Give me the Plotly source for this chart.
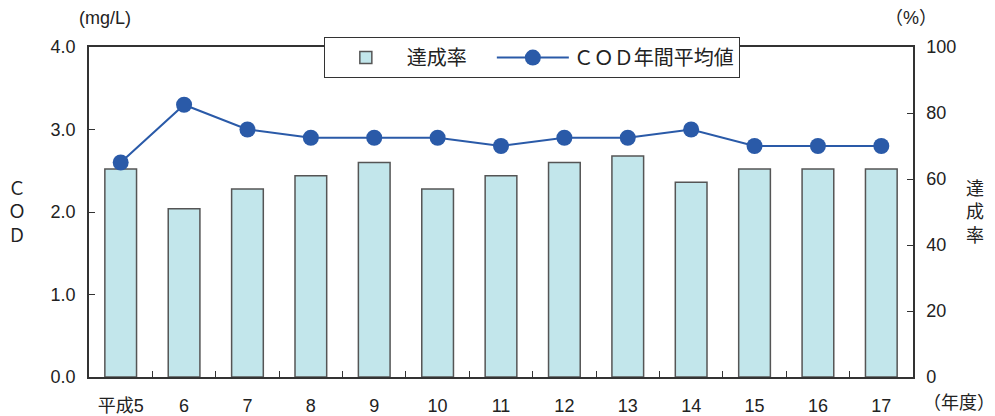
import plotly.graph_objects as go

years = ["平成5", "6", "7", "8", "9", "10", "11", "12", "13", "14", "15", "16", "17"]
achievement_rate = [63, 51, 57, 61, 65, 57, 61, 65, 67, 59, 63, 63, 63]   # 達成率 (%)
cod_mean = [2.6, 3.3, 3.0, 2.9, 2.9, 2.9, 2.8, 2.9, 2.9, 3.0, 2.8, 2.8, 2.8]  # COD年間平均値 (mg/L)

FONT = "Liberation Sans, Noto Sans CJK JP, sans-serif"
TXT = "#222222"
AX = "#333333"

fig = go.Figure()
fig.add_trace(go.Bar(
    x=years, y=achievement_rate, name="達成率　", yaxis="y",
    marker=dict(color="#c2e6eb", line=dict(color="#555555", width=1.5)),
    width=0.5,
))
fig.add_trace(go.Scatter(
    x=years, y=cod_mean, name="ＣＯＤ年間平均値", yaxis="y2",
    mode="lines+markers",
    line=dict(color="#2a5aa8", width=2),
    marker=dict(color="#2a5aa8", size=16),
))

fig.update_layout(
    width=995, height=416,
    margin=dict(l=89, r=82, t=47, b=39, autoexpand=False),
    paper_bgcolor="white", plot_bgcolor="white",
    font=dict(family=FONT, size=18, color=TXT),
    showlegend=True,
    legend=dict(
        orientation="h", x=0.285, y=1.03, xanchor="left", yanchor="top",
        bgcolor="white", bordercolor=AX, borderwidth=1,
        font=dict(size=20, color=TXT), itemwidth=72,
        traceorder="normal",
    ),
    xaxis=dict(
        type="category", range=[-0.5, len(years) - 0.5],
        tickson="boundaries", ticks="inside", ticklen=6,
        tickcolor=AX, showline=True, linecolor=AX, linewidth=1.5, mirror=True,
        showgrid=False, zeroline=False, ticklabelstandoff=12, automargin=False,
    ),
    yaxis=dict(
        side="right", range=[0, 100], dtick=20, ticks="inside", ticklen=6,
        tickcolor=AX, showline=True, linecolor=AX, linewidth=1.5,
        showgrid=False, zeroline=False, ticklabelstandoff=8, automargin=False,
    ),
    yaxis2=dict(
        side="left", overlaying="y", range=[0, 4], dtick=1, tickformat=".1f",
        ticks="inside", ticklen=6, tickcolor=AX, showline=True, linecolor=AX,
        linewidth=1.5, showgrid=False, zeroline=False, ticklabelstandoff=8,
        automargin=False,
    ),
    annotations=[
        dict(text="(mg/L)", x=105, y=18, showarrow=False),
        dict(text="（%）", x=911, y=18, showarrow=False),
        dict(text="Ｃ<br>Ｏ<br>Ｄ", x=17, y=212, showarrow=False),
        dict(text="達<br>成<br>率", x=975, y=212, showarrow=False),
        dict(text="（年度）", x=959, y=403, showarrow=False),
    ],
)

# convert pixel-based annotation positions to paper coordinates
W, H = 995, 416
L, R, T, B = 89, 82, 47, 39
pw, ph = W - L - R, H - T - B
new_ann = []
for a in fig.layout.annotations:
    a.xref = "paper"; a.yref = "paper"
    a.x = (a.x - L) / pw
    a.y = (H - B - a.y) / ph
    a.xanchor = "center"; a.yanchor = "middle"
    new_ann.append(a)
fig.layout.annotations = new_ann

fig.write_html("out.html", config={"displayModeBar": False},
               post_script="document.body.style.margin='0px';")
